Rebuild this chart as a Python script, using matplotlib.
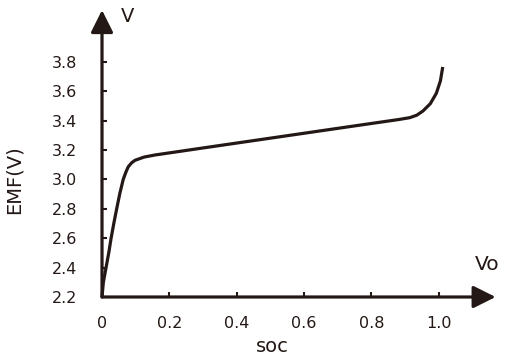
import matplotlib
matplotlib.use("Agg")
import matplotlib.pyplot as plt

# EMF vs state of charge
soc = [0, 0.004, 0.012, 0.02, 0.027, 0.035, 0.044, 0.053, 0.063, 0.071,
       0.078, 0.088, 0.098, 0.125, 0.157, 0.3, 0.45, 0.6, 0.75, 0.88,
       0.914, 0.935, 0.953, 0.975, 0.993, 1.005, 1.012]
emf = [2.2, 2.3, 2.4, 2.5, 2.6, 2.7, 2.805, 2.905, 3.0, 3.05,
       3.086, 3.113, 3.13, 3.152, 3.166, 3.214, 3.264, 3.314, 3.364, 3.407,
       3.42, 3.437, 3.465, 3.515, 3.586, 3.67, 3.765]

xticks = [0, 0.2, 0.4, 0.6, 0.8, 1.0]
xtick_labels = ["0", "0.2", "0.4", "0.6", "0.8", "1.0"]
yticks = [2.2, 2.4, 2.6, 2.8, 3.0, 3.2, 3.4, 3.6, 3.8]

ink = "#231815"
plt.rcParams["font.family"] = ["DejaVu Sans"]

fig = plt.figure(figsize=(5.08, 3.60), dpi=100)
ax = fig.add_axes([0.2008, 0.175, 0.7748, 0.797])
ax.set_xlim(0, 1.169)
ax.set_ylim(2.2, 4.152)

ax.plot(soc, emf, color=ink, lw=2.3, solid_capstyle="butt",
        solid_joinstyle="round", clip_on=False)

for s in ax.spines.values():
    s.set_visible(False)

# axes with arrow heads
arrow = dict(arrowstyle="-|>,head_length=0.68,head_width=0.34",
             mutation_scale=20, lw=2.3, color=ink, shrinkA=0, shrinkB=0)
ax.annotate("", xy=(1, 0), xytext=(0, 0), xycoords="axes fraction",
            arrowprops=arrow, annotation_clip=False)
ax.annotate("", xy=(0, 1), xytext=(0, 0), xycoords="axes fraction",
            arrowprops=arrow, annotation_clip=False)

ax.set_xticks(xticks)
ax.set_xticklabels(xtick_labels)
ax.set_yticks(yticks)
ax.set_yticklabels([f"{v:.1f}" for v in yticks])
ax.tick_params(axis="both", direction="in", length=3.5, width=1.5,
               color=ink, labelcolor=ink, labelsize=11.5)
ax.tick_params(axis="y", pad=18)
ax.tick_params(axis="x", pad=14)

ax.text(0.505, 2.2 - 50 / 147, "soc", ha="center", va="center",
        fontsize=14, color=ink)
ax.text(-0.26, 3.0, "EMF(V)", rotation=90, ha="center", va="center",
        fontsize=14, color=ink)
ax.text(0.075, 4.11, "V", ha="center", va="center", fontsize=14, color=ink)
ax.text(1.145, 2.42, "Vo", ha="center", va="center", fontsize=14.5, color=ink)

fig.savefig("out.png", dpi=100)
